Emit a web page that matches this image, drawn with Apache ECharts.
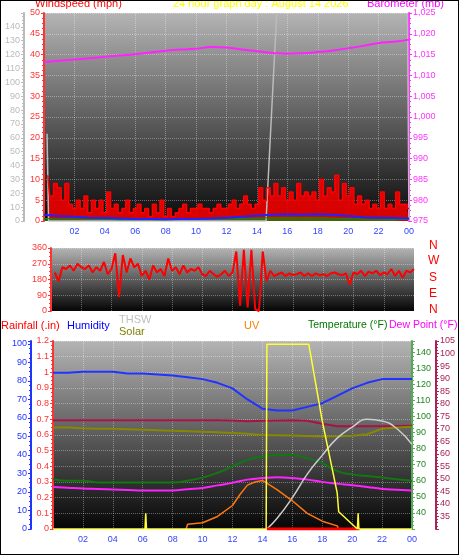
<!DOCTYPE html>
<html><head><meta charset="utf-8">
<script src="https://cdn.jsdelivr.net/npm/echarts@6/dist/echarts.min.js"></script>
<style>html,body{margin:0;padding:0;background:#fff}#c{width:459px;height:555px;box-sizing:border-box;border:1px solid #000}</style>
</head><body><div id="c"></div>
<script>
// quarter-hourly wind speed (mph) and direction (deg)
const windSpeed = [11,6,9,8, 5,9,4,3, 5,3,6,2, 5,3,5,2, 7,3,4,2, 3,5,2,3, 4,2,3,1, 4,2,5,1, 3,1,2,3, 4,2,3,3, 4,3,3,2, 3,4,3,3, 4,5,3,4, 6,4,3,4, 8,5,8,6, 9,6,8,5, 7,5,9,6, 7,6,7,5, 10,6,8,7, 11,5,9,6, 8,4,6,4, 5,3,4,3, 7,3,4,3, 7,4,4,3];
const windDir = [220,170,250,240, 260,230,270,250, 240,260,220,250, 230,280,210,240, 330,80,320,220, 300,250,270,200, 230,180,260,220, 240,200,300,230, 250,210,260,220, 240,230,250,210, 200,230,210,195, 210,230,200,220, 340,30,350,20, 350,10,0,340, 170,230,200,210, 220,200,215,205, 210,220,200,215, 200,215,205,210, 200,215,220,210, 205,215,150,220, 210,230,200,225, 215,230,205,220, 210,240,200,230, 190,230,220,240];
// hourly (0..24)
const windAvg = [1.5,1.2,1,0.8,0.7,0.6,0.5,0.5,0.4,0.5,0.5,0.6,0.8,1,1.3,1.5,1.6,1.5,1.6,1.5,1.2,0.9,0.8,0.7,0.6];
const windLow = [0.6,0.5,0.5,0.4,0.4,0.3,0.3,0.3,0.3,0.4,0.4,0.5,0.5,0.6,0.7,0.8,0.8,0.8,0.8,0.7,0.6,0.5,0.4,0.4,0.4];
const barometer = [1013.2,1013.5,1013.8,1014.1,1014.5,1014.8,1015.1,1015.5,1015.9,1016.2,1016.4,1016.8,1016.7,1016.2,1015.8,1015.4,1015.2,1015.3,1015.6,1016.0,1016.5,1017.1,1017.8,1018.1,1018.6];
const humidity = [84.5,84.5,85,85,85,84,84,83.5,83,82,81,79,76,70,65,64,64,66,68,72,76,79,81,81,81];
const temperature = [61,60,60,59,59,59,59,59,59,60,62,65,69,73,75,76,76,74,71,66,64,63,62,61,60];
const dewPoint = [46.8,46.5,46.2,46,45.8,45.6,45.4,45.4,45.4,45.9,46.4,47.4,48.4,49.7,50.3,50.6,50.3,49.7,48.8,48.1,47.5,46.8,46,45.7,45.4];
const indoorTemp = [73.4,73.4,73.4,73.4,73.4,73.4,73.4,73.4,73.4,73.4,73.4,73.4,73.3,73,73.2,73.3,73.4,73.2,72,71,71,71,71,71.1,71.2];
const solarLine = [70.5,70.5,70.2,70,70,69.8,69.6,69.4,69.2,69,68.8,68.6,68.3,68,67.5,67.4,67.3,67.1,66.9,67,67.2,67.8,70,70.5,70.8];
const yellowT = [0,6.15,6.2,6.25,14.25,14.3,17.1,18,19,19.1,20,20.35,20.4,20.45,24];
const yellowV = [0,0,0.1,0,0,1.18,1.18,0.69,0.23,0.11,0.03,0,0.1,0,0];
const uvT = [8.9,9,10,11,12,12.5,13,13.5,14,15,16,17,18,19,19.1];
const uvV = [0,0.03,0.04,0.08,0.15,0.22,0.28,0.3,0.31,0.25,0.18,0.1,0.05,0.02,0];
const thswT = [14.3,15,16,17,18,19,20,21,22,23,24];
const thswV = [0,0.07,0.2,0.35,0.47,0.58,0.65,0.7,0.69,0.64,0.54];
const grayT = [0.2,0.3,14.6,15.3,null,23.9,24];
const grayV = [63,0,0,150,null,150,0];
const hourTicks = ['02','04','06','08','10','12','14','16','18','20','22','00'];

const F = 'Liberation Sans, Arial, sans-serif';
const quarter = a => a.map((v,i)=>[(i+1)*0.25,v]);
const hourly = a => a.map((v,i)=>[i,v]);
const pair = (t,v) => t.map((x,i)=> x===null?[null,null]:[x,v[i]]);
const bg = (a,b) => new echarts.graphic.LinearGradient(0,0,0,1,[{offset:0,color:a},{offset:1,color:b}]);
const gridLine = {show:true,lineStyle:{color:'rgba(255,255,255,0.35)',type:'dotted'}};
function xAx(gi, showLabels){
  return {type:'value',gridIndex:gi,min:0,max:24,interval:2,
    axisLine:{show:false},axisTick:{show:false},splitLine:gridLine,
    axisLabel:{show:showLabels,color:'#3344ff',fontSize:9,fontFamily:F,margin:6,
      formatter:v=>v===0?'':hourTicks[v/2-1]}};
}
function yAx(gi,pos,off,min,max,interval,color,extra){
  return Object.assign({type:'value',gridIndex:gi,position:pos,offset:off,min,max,interval,
    axisLine:{show:true,lineStyle:{color,width:2}},
    axisTick:{show:true,length:3,lineStyle:{color}},
    minorTick:{show:true,splitNumber:4,length:2,lineStyle:{color}},
    splitLine:{show:false},
    axisLabel:{color,fontSize:9,fontFamily:F,margin:4}},extra||{});
}
const chart = echarts.init(document.getElementById('c'));
chart.setOption({
  animation:false,
  grid:[
    {left:43,right:49,top:12,height:208,show:true,borderWidth:0,backgroundColor:bg('#b4b4b4','#0a0a0a')},
    {left:50,right:44,top:247,height:63,show:true,borderWidth:0,backgroundColor:bg('#b4b4b4','#050505')},
    {left:52,right:46,top:340,height:188,show:true,borderWidth:0,backgroundColor:bg('#b4b4b4','#050505')}
  ],
  xAxis:[xAx(0,true),xAx(1,false),xAx(2,true)],
  yAxis:[
    yAx(0,'left',0,0,50,5,'#ff3333',{splitLine:gridLine}),
    yAx(0,'left',20,0,150,10,'#bbbbbb',{axisLabel:{color:'#bbbbbb',fontSize:9,fontFamily:F,margin:4,formatter:v=>v===150?'':v}}),
    yAx(0,'right',0,975,1025,5,'#ff33ff'),
    yAx(1,'left',0,0,360,90,'#ff3333',{splitLine:gridLine}),
    yAx(2,'left',0,0,1.2,0.1,'#ff3333',{splitLine:gridLine,axisLabel:{color:'#ff3333',fontSize:9,fontFamily:F,margin:4,formatter:v=>String(Math.round(v*10)/10)}}),
    yAx(2,'left',22,0,100,10,'#2233ff',{max:101.6}),
    yAx(2,'right',0,30,147,10,'#55aa55',{axisLabel:{color:'#228822',fontSize:9,fontFamily:F,margin:4,formatter:v=>(v<40||v>140)?'':v}}),
    yAx(2,'right',24,30,105,5,'#aa2255',{axisLabel:{color:'#aa2255',fontSize:9,fontFamily:F,margin:4,formatter:v=>v<35?'':v}})
  ],
  series:[
    {type:'line',xAxisIndex:0,yAxisIndex:1,data:pair(grayT,grayV),symbol:'none',lineStyle:{color:'#bbbbbb',width:1.5},connectNulls:false},
    {type:'line',xAxisIndex:0,yAxisIndex:2,data:hourly(barometer),symbol:'none',smooth:true,lineStyle:{color:'#ff22ff',width:2}},
    {type:'line',xAxisIndex:0,yAxisIndex:0,data:quarter(windSpeed),symbol:'none',step:'middle',lineStyle:{color:'#ff0000',width:1.5},areaStyle:{color:'#ee0000',opacity:0.9}},
    {type:'line',xAxisIndex:0,yAxisIndex:0,data:hourly(windLow),symbol:'none',lineStyle:{color:'#118811',width:1},areaStyle:{color:'#118811'}},
    {type:'line',xAxisIndex:0,yAxisIndex:0,data:hourly(windAvg),symbol:'none',lineStyle:{color:'#2222ff',width:2}},
    {type:'line',xAxisIndex:1,yAxisIndex:3,data:quarter(windDir),symbol:'none',lineStyle:{color:'#ff0000',width:2}},
    {type:'line',xAxisIndex:2,yAxisIndex:5,data:hourly(humidity),symbol:'none',lineStyle:{color:'#2233ff',width:2}},
    {type:'line',xAxisIndex:2,yAxisIndex:7,data:hourly(indoorTemp),symbol:'none',lineStyle:{color:'#aa1144',width:2}},
    {type:'line',xAxisIndex:2,yAxisIndex:7,data:hourly(solarLine),symbol:'none',lineStyle:{color:'#888800',width:2}},
    {type:'line',xAxisIndex:2,yAxisIndex:6,data:hourly(temperature),symbol:'none',smooth:true,lineStyle:{color:'#117711',width:2}},
    {type:'line',xAxisIndex:2,yAxisIndex:7,data:hourly(dewPoint),symbol:'none',smooth:true,lineStyle:{color:'#ff22ff',width:2}},
    {type:'line',xAxisIndex:2,yAxisIndex:4,data:pair(thswT,thswV),symbol:'none',smooth:true,lineStyle:{color:'#cccccc',width:1.5}},
    {type:'line',xAxisIndex:2,yAxisIndex:4,data:pair(uvT,uvV),symbol:'none',lineStyle:{color:'#ff7711',width:1.5}},
    {type:'line',xAxisIndex:2,yAxisIndex:4,data:[[14.3,0],[20.5,0]],symbol:'none',lineStyle:{color:'#ff0000',width:3}},
    {type:'line',xAxisIndex:2,yAxisIndex:4,data:pair(yellowT,yellowV),symbol:'none',lineStyle:{color:'#ffff33',width:1.5}}
  ],
  graphic:[
    {type:'text',left:34,top:-3,style:{text:'Windspeed (mph)',fill:'#ff0000',font:'11px '+F}},
    {type:'text',left:172,top:-3,style:{text:'24 hour graph day : August 14 2026',fill:'#ffff00',font:'11px '+F}},
    {type:'text',left:366,top:-3,style:{text:'Barometer (mb)',fill:'#ff00ff',font:'11px '+F}},
    {type:'text',left:428,top:239,style:{text:'N',fill:'#ff0000',font:'12px '+F}},
    {type:'text',left:427,top:254,style:{text:'W',fill:'#ff0000',font:'12px '+F}},
    {type:'text',left:428,top:271,style:{text:'S',fill:'#ff0000',font:'12px '+F}},
    {type:'text',left:428,top:287,style:{text:'E',fill:'#ff0000',font:'12px '+F}},
    {type:'text',left:428,top:303,style:{text:'N',fill:'#ff0000',font:'12px '+F}},
    {type:'text',left:0,top:319,style:{text:'Rainfall (.in)',fill:'#ff0000',font:'11px '+F}},
    {type:'text',left:66,top:319,style:{text:'Humidity',fill:'#0000ff',font:'11px '+F}},
    {type:'text',left:118,top:313,style:{text:'THSW',fill:'#c0c0c0',font:'11px '+F}},
    {type:'text',left:118,top:325,style:{text:'Solar',fill:'#808000',font:'11px '+F}},
    {type:'text',left:243,top:319,style:{text:'UV',fill:'#ff8000',font:'11px '+F}},
    {type:'text',left:307,top:319,style:{text:'Temperature (°F)',fill:'#007700',font:'10.5px '+F}},
    {type:'text',left:388,top:319,style:{text:'Dew Point (°F)',fill:'#ff00ff',font:'10.5px '+F}}
  ]
});
</script></body></html>
